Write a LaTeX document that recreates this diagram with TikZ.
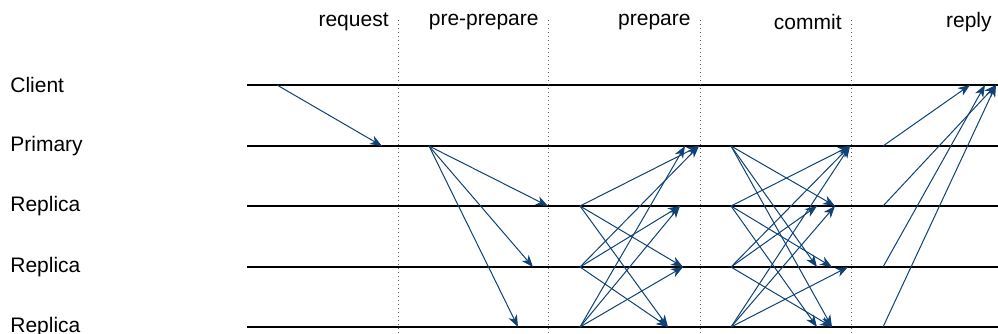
\documentclass[tikz,border=0pt]{standalone}
\usepackage{fontspec}
\setmainfont{Liberation Sans}
\usetikzlibrary{arrows.meta,calc}
\definecolor{msgblue}{HTML}{0F4275}
\definecolor{phasegray}{HTML}{555555}
\begin{document}
\begin{tikzpicture}[x=0.5pt,y=-0.5pt,
  font=\fontsize{10.5}{12}\selectfont,
  lane/.style={line width=1pt,black},
  msg/.style={draw=msgblue,line width=0.5pt,
    -{Stealth[length=6pt,width=4.6pt,inset=1.8pt]}},
  phase/.style={phasegray,line width=0.5pt,dash pattern=on 0.5pt off 1.5pt},
  who/.style={anchor=west,inner sep=0pt},
  stage/.style={anchor=east,inner sep=0pt}]
\useasboundingbox (0,0) rectangle (998,333);

% participants and their time lines
\foreach \n/\t/\y in {C/Client/85, P/Primary/146, R1/Replica/206, R2/Replica/267, R3/Replica/327} {
  \node[who] (\n) at (10,\y) {\t};
  \coordinate (\n-o) at (0,\y);
  \coordinate (\n-a) at (247,\y);
  \coordinate (\n-b) at (1000,\y);
  \draw[lane] (\n-a) -- (\n-b);
}

% phase boundaries and phase names
\foreach \n/\t/\x in {req/request/398, pre/pre-prepare/548, prep/prepare/700, com/commit/851} {
  \coordinate (\n-top) at (\x,20);
  \coordinate (\n-bot) at (\x,333);
  \draw[phase] (\n-top) -- (\n-bot);
  \node[stage] (\n) at (\x-9,22) {\t};
}
\node[stage] (rep) at (992,22) {reply};

% messages: sender lane / send time / receiver lane / arrival time
\foreach \s/\xa/\r/\xb in {
  C/277/P/382,
  P/429/R1/548, P/429/R2/533, P/429/R3/518,
  R1/580/P/699, R1/580/R2/683, R1/580/R3/668,
  R2/580/P/699, R2/580/R1/680, R2/580/R3/668,
  R3/580/P/685, R3/580/R1/680, R3/580/R2/683,
  P/731/R1/835, P/731/R2/817, P/731/R3/832,
  R1/731/P/850, R1/731/R2/832, R1/731/R3/817,
  R2/731/P/850, R2/731/R1/817, R2/731/R3/832,
  R3/731/P/850, R3/731/R1/835, R3/731/R2/848,
  P/883/C/970, R1/883/C/996, R2/883/C/985, R3/883/C/996} {
  \draw[msg] ($(\s-o)+(\xa,0)$) -- ($(\r-o)+(\xb,0)$);
}
\end{tikzpicture}
\end{document}
